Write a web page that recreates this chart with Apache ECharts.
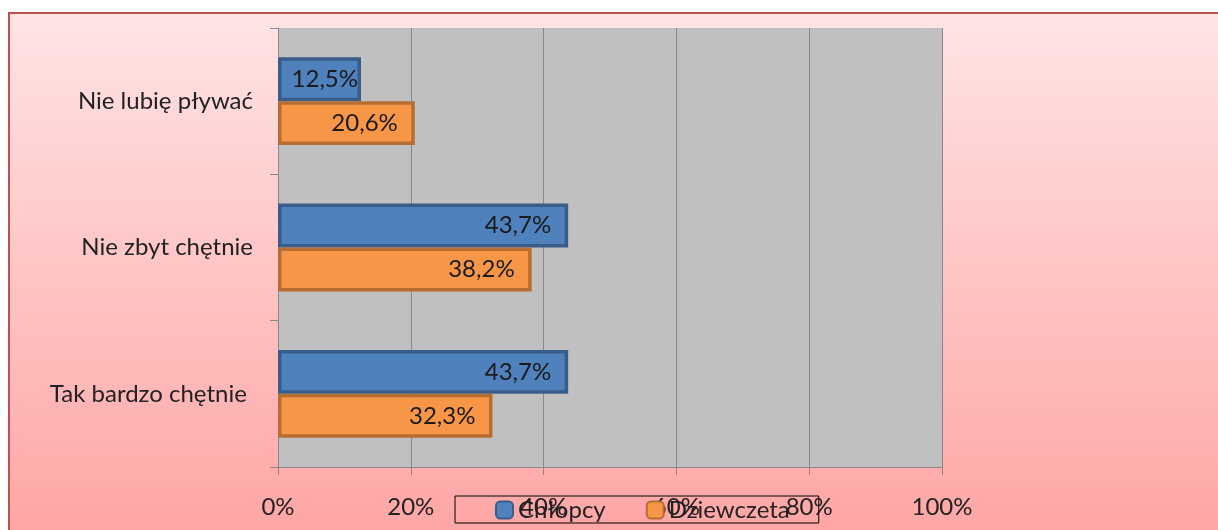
<!DOCTYPE html>
<html>
<head>
<meta charset="utf-8">
<script src="https://cdn.jsdelivr.net/npm/echarts@6/dist/echarts.min.js"></script>
<style>
  html, body { margin: 0; padding: 0; background: #ffffff; }
  #chart { width: 1218px; height: 530px; }
</style>
</head>
<body>
<div id="chart"></div>
<script>
// Answers, listed bottom to top on the category axis
const categories = ['Tak bardzo chętnie ', 'Nie zbyt chętnie', 'Nie lubię pływać'];
const boys = [43.7, 43.7, 12.5];
const girls = [32.3, 38.2, 20.6];
const seriesNames = ['Chłopcy', 'Dziewczeta'];

const FONT = 'Lato';
const FS = 24;
const fmt = p => p.value.toFixed(1).replace('.', ',') + '%';

// short bars keep their label tucked against the bar end
const withLabels = vals => vals.map(v => ({
  value: v,
  label: { distance: v < 15 ? 3 : 17 }
}));

const chart = echarts.init(document.getElementById('chart'), null, { renderer: 'canvas' });

chart.setOption({
  animation: false,
  textStyle: { fontFamily: FONT },
  graphic: [{
    type: 'rect',
    z: -100,
    silent: true,
    shape: { x: 9, y: 13, width: 1230, height: 540 },
    style: {
      fill: new echarts.graphic.LinearGradient(0, 0, 0, 1, [
        { offset: 0, color: '#ffe4e4' },
        { offset: 1, color: '#ffa3a3' }
      ]),
      stroke: '#c0504d',
      lineWidth: 2
    }
  }],
  grid: {
    left: 278, right: 276, top: 28, bottom: 63,
    show: true, backgroundColor: '#c0c0c0', borderWidth: 0
  },
  legend: {
    left: 455, top: 496,
    padding: [2, 29, 1, 40],
    borderColor: '#000', borderWidth: 1,
    itemWidth: 17, itemHeight: 17, itemGap: 40,
    textStyle: { fontFamily: FONT, fontSize: FS, color: '#222', padding: [3, 0, 0, 0] },
    data: seriesNames
  },
  xAxis: {
    type: 'value', min: 0, max: 100, interval: 20,
    axisLine: { show: true, lineStyle: { color: '#888', width: 1 } },
    axisTick: { show: true, length: 8, lineStyle: { color: '#888' } },
    splitLine: { show: true, lineStyle: { color: '#888', width: 1 } },
    axisLabel: { margin: 28, fontSize: FS, color: '#222', fontFamily: FONT, formatter: '{value}%' }
  },
  yAxis: {
    type: 'category', data: categories,
    axisLine: { show: true, lineStyle: { color: '#888', width: 1 } },
    axisTick: { show: true, length: 8, lineStyle: { color: '#888' } },
    axisLabel: { margin: 25, fontSize: FS, color: '#222', fontFamily: FONT, padding: [4, 0, 0, 0] }
  },
  series: [
    {
      name: seriesNames[0], type: 'bar', data: withLabels(boys),
      barGap: '0%', barCategoryGap: '40%',
      itemStyle: { color: '#4f81bd', borderColor: '#385d8a', borderWidth: 3.5 },
      label: { show: true, position: 'insideRight', fontSize: FS,
               color: '#1a1a1a', fontFamily: FONT, formatter: fmt }
    },
    {
      name: seriesNames[1], type: 'bar', data: withLabels(girls),
      barGap: '0%', barCategoryGap: '40%',
      itemStyle: { color: '#f79646', borderColor: '#b66d31', borderWidth: 3.5 },
      label: { show: true, position: 'insideRight', fontSize: FS,
               color: '#1a1a1a', fontFamily: FONT, formatter: fmt }
    }
  ]
});
</script>
</body>
</html>
